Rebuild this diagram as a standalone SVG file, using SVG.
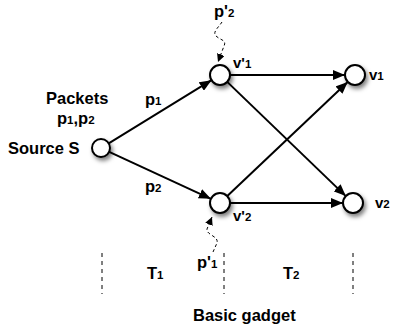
<svg xmlns="http://www.w3.org/2000/svg" width="393" height="329" viewBox="0 0 393 329">
<style>
text{font-family:"Liberation Sans",Arial,sans-serif;font-weight:bold;fill:#000;font-size:16.5px}
.sm{font-size:11.5px}
.nl{font-size:15px}
.node{fill:#fff;stroke:#000;stroke-width:2;filter:url(#sh)}
.edge{stroke:#000;stroke-width:2;fill:none;marker-end:url(#ah)}
.wav{stroke:#000;stroke-width:1;fill:none;stroke-dasharray:3,2.5;marker-end:url(#ahs)}
.div{stroke:#000;stroke-width:1;stroke-dasharray:4,4}
</style>
<defs>
<filter id="sh" x="-60%" y="-60%" width="220%" height="220%">
<feDropShadow dx="2" dy="3" stdDeviation="2" flood-color="#000" flood-opacity="0.5"/>
</filter>
<marker id="ah" markerUnits="userSpaceOnUse" markerWidth="12" markerHeight="10" refX="12" refY="5" orient="auto">
<path d="M0,0 L12,5 L0,10 z" fill="#000"/>
</marker>
<marker id="ahs" markerUnits="userSpaceOnUse" markerWidth="8" markerHeight="8" refX="8" refY="4" orient="auto">
<path d="M0,0 L8,4 L0,8 z" fill="#000"/>
</marker>
</defs>
<g id="connectors">
<line class="edge" x1="108.7" y1="143.3" x2="211.5" y2="80.2"/>
<line class="edge" x1="109.2" y1="151.8" x2="210.9" y2="198.8"/>
<line class="edge" x1="230" y1="75" x2="345" y2="75"/>
<line class="edge" x1="230" y1="203" x2="343" y2="203"/>
<line class="edge" x1="227.2" y1="81.9" x2="345.8" y2="196.1"/>
<line class="edge" x1="227.3" y1="196.1" x2="347.7" y2="81.9"/>
<path class="wav" d="M222,22 C219,27 212,32 216,36 C220,40 227,40 224,46 L218,62"/>
<path class="wav" d="M213,252 L217,243 C219,236 206,235 207,229 L212,217"/>
</g>
<g id="dividers">
<line class="div" x1="102" y1="253" x2="102" y2="294"/>
<line class="div" x1="224" y1="253" x2="224" y2="294"/>
<line class="div" x1="353" y1="253" x2="353" y2="294"/>
</g>
<g id="source">
<circle class="node" cx="101" cy="148" r="9"/>
<text x="8" y="154">Source S</text>
<text x="46" y="104">Packets</text>
<text x="57" y="124">p<tspan class="sm">1</tspan>,p<tspan class="sm">2</tspan></text>
</g>
<g id="v1p">
<circle class="node" cx="220" cy="75" r="10"/>
<text class="nl" x="233" y="68">v'<tspan class="sm">1</tspan></text>
</g>
<g id="v2p">
<circle class="node" cx="220" cy="203" r="10"/>
<text class="nl" x="233" y="221">v'<tspan class="sm">2</tspan></text>
</g>
<g id="v1">
<circle class="node" cx="355" cy="75" r="10"/>
<text class="nl" x="369" y="80">v<tspan class="sm">1</tspan></text>
</g>
<g id="v2">
<circle class="node" cx="353" cy="203" r="10"/>
<text class="nl" x="375" y="208">v<tspan class="sm">2</tspan></text>
</g>
<g id="labels">
<text x="145" y="105">p<tspan class="sm">1</tspan></text>
<text x="145" y="192">p<tspan class="sm">2</tspan></text>
<text x="214" y="17">p'<tspan class="sm">2</tspan></text>
<text x="197" y="268">p'<tspan class="sm">1</tspan></text>
<text x="147" y="279">T<tspan class="sm">1</tspan></text>
<text x="283" y="279">T<tspan class="sm">2</tspan></text>
<text x="193" y="321">Basic gadget</text>
</g>
</svg>
